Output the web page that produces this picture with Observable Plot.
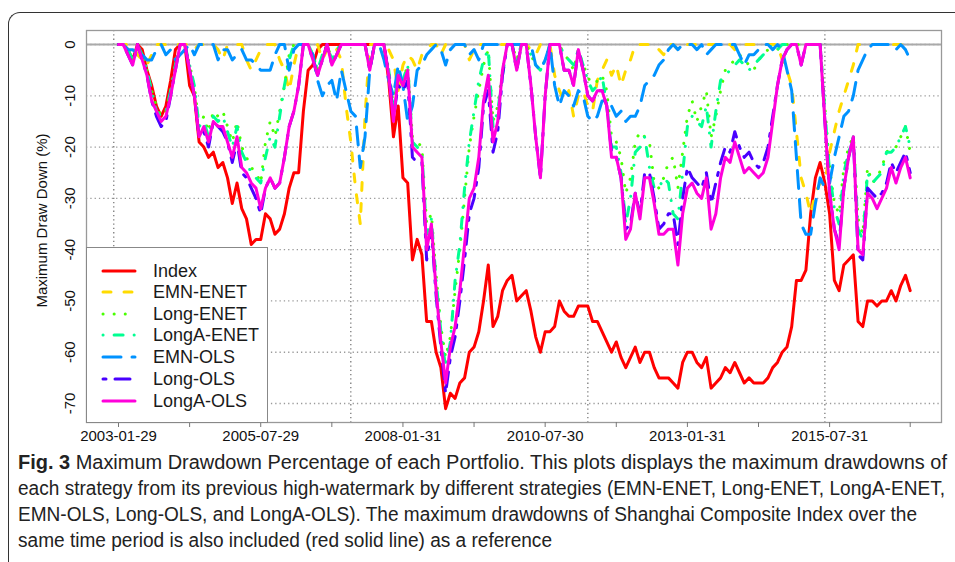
<!DOCTYPE html>
<html><head><meta charset="utf-8">
<script src="https://cdn.jsdelivr.net/npm/d3@7"></script>
<script src="https://cdn.jsdelivr.net/npm/@observablehq/plot@0.6"></script>
<style>
html,body{margin:0;padding:0;background:#fff;width:955px;height:562px;overflow:hidden;}
body{position:relative;font-family:"Liberation Sans",Arial,sans-serif;}
#box{position:absolute;left:8px;top:12px;width:1200px;height:800px;border-top:1.6px solid #333;border-left:1.6px solid #333;border-top-left-radius:12px;}
#chart{position:absolute;left:0;top:0;}
#legend{position:absolute;left:86px;top:247px;width:180px;height:174px;border:1px solid #888;background:#fff;}
.lrow{position:absolute;left:0;height:22px;width:180px;}
.lrow svg{position:absolute;left:13px;top:5px;}
.lrow span{position:absolute;left:66px;top:0;font-size:18px;line-height:22px;color:#1a1a1a;white-space:nowrap;}
#caption{position:absolute;left:18px;top:449px;font-family:"Liberation Sans Narrow","Liberation Sans",Arial,sans-serif;font-size:20px;color:#222;}
#caption .ln{display:block;height:26px;line-height:26px;}
#caption .ln span.t{display:inline-block;white-space:nowrap;transform-origin:0 50%;}
</style></head>
<body>
<div id="box"></div>
<div id="chart"></div>
<div id="legend"></div>
<div id="caption"></div>
<script>
// ---- data (monthly observations, index 1..168) ----
const seriesNames = ["Index","EMN-ENET","Long-ENET","LongA-ENET","EMN-OLS","Long-OLS","LongA-OLS"];
const tickIndex = [1,16,31,46,61,76,91,106,121,136,151,168];
const tickLabels = ["2003-01-29","","2005-07-29","","2008-01-31","","2010-07-30","","2013-01-31","","2015-07-31",""];
const yTicks = [0,-10,-20,-30,-40,-50,-60,-70];
const xGrid = [0,50,100,150];

const indexDD = [0,0,-1,-3,0,-1,-5,-8,-12,-14,
-12,-7,-1,0,0,-8,-10,-19,-20,-22,
-21,-24,-23,-26,-31,-27,-32,-34,-39,-38,
-38,-33,-34,-37,-36,-33,-28,-25,-25,-13,
-5,-4,-1,0,0,0,0,0,0,0,
0,0,0,0,0,0,0,-7,-18,-12,
-26,-27,-42,-38,-41,-54,-54,-60,-63,-71,
-68,-69,-66,-65,-60,-59,-56,-50,-43,-55,
-53,-48,-46,-45,-50,-49,-48,-52,-57,-60,
-56,-56,-55,-50,-52,-53,-53,-51,-51,-51,
-54,-54,-56,-58,-60,-58,-61,-63,-61,-59,
-62,-60,-60,-63,-65,-65,-65,-66,-67,-62,
-60,-60,-62,-63,-61,-67,-66,-65,-63,-64,
-62,-64,-66,-65,-66,-66,-66,-65,-63,-62,
-60,-59,-55,-46,-46,-44,-33,-26,-23,-27,
-33,-46,-48,-43,-42,-41,-54,-55,-50,-50,
-51,-50,-50,-48,-50,-47,-45,-48];

const emnEnet = [0,0,0,0,-2,-3,-4,-2,0,0,
0,0,0,0,0,0,-1,0,0,0,
0,-1,-3,0,0,0,0,-3,-5,-3,
-1,0,0,0,-3,-5,-9,-4,0,0,
0,-1,0,-3,-1,0,-1,-3,-12,-19,
-28,-35,-14,0,0,0,0,-1,-3,-9,
-4,-2,-3,-5,-2,-1,0,0,-2,0,
0,0,0,0,-3,-1,0,0,0,0,
0,0,0,0,0,0,0,-1,-2,0,
0,0,-6,-9,-11,-9,-14,-10,-9,-12,
-13,-7,-5,-3,-6,-4,-8,-5,-3,0,
0,0,0,0,-1,-2,0,0,-1,0,
0,0,0,0,0,0,0,0,0,0,
-1,0,0,0,0,0,0,0,0,0,
-3,-5,-8,-17,-26,-29,-33,-29,-27,-27,
-21,-17,-13,-10,-7,-4,0,0,0,0,
0,0,0,0,0,0,0,-1];

const longEnet = [0,0,-1,-3,0,-2,-5,-9,-12,-14,
-13,-9,-4,0,0,-4,-8,-16,-14,-17,
-13,-14,-13,-16,-19,-15,-20,-22,-24,-25,
-27,-19,-15,-18,-13,-8,-2,0,0,0,
0,-2,-5,-2,0,-3,-1,0,0,0,
0,0,0,-4,0,0,0,-5,-12,-5,
-7,-4,-18,-19,-20,-35,-33,-45,-55,-61,
-57,-48,-40,-30,-20,-14,-9,-4,-1,-15,
-12,-5,0,0,-3,0,0,-2,-4,-5,
-3,0,0,0,-2,-3,-5,-1,-4,-6,
-9,-7,-6,-9,-18,-19,-22,-29,-26,-19,
-17,-18,-19,-27,-28,-26,-23,-22,-28,-21,
-14,-11,-15,-12,-9,-18,-14,-9,-5,-4,
-3,-2,-3,-4,-5,-3,-2,-1,-1,-1,
0,0,0,0,0,0,0,0,0,-12,
-24,-31,-33,-24,-20,-18,-34,-37,-24,-27,
-26,-24,-21,-20,-20,-18,-16,-21];

const longaEnet = [0,0,-1,-3,0,-2,-5,-9,-13,-14,
-13,-9,-4,0,0,-4,-8,-16,-15,-18,
-14,-15,-14,-17,-20,-16,-21,-23,-25,-26,
-27,-22,-18,-20,-14,-8,-3,0,0,0,
0,-2,-5,-2,0,-3,-1,0,0,0,
0,0,0,-4,0,0,0,-5,-13,-5,
-7,-4,-19,-20,-21,-37,-34,-46,-56,-63,
-58,-46,-39,-28,-19,-13,-7,-3,-1,-16,
-13,-6,0,0,-3,0,0,-2,-4,-5,
-3,0,0,0,-2,-3,-4,-1,-4,-7,
-9,-8,-6,-12,-20,-20,-25,-35,-30,-21,
-20,-18,-24,-28,-28,-26,-27,-33,-34,-25,
-16,-14,-15,-16,-12,-20,-13,-7,-6,-5,
-4,-3,-4,-5,-4,-3,-2,-1,0,-1,
0,0,0,0,0,0,0,0,0,-13,
-25,-32,-35,-25,-21,-18,-36,-38,-25,-27,
-26,-25,-21,-21,-20,-18,-16,-20];

const emnOls = [0,0,-1,-1,-2,-2,-3,-3,-1,0,
-2,-1,-3,-2,-1,0,-2,0,0,0,
0,-3,-1,-1,-3,-2,-1,-3,-3,-4,
-5,-5,-5,-2,0,0,-5,-1,0,0,
0,-2,-7,-10,-8,-7,-11,-5,-9,-13,
-14,-24,-18,-5,0,0,-3,-7,-10,-4,
-8,-15,-12,-5,-4,-2,-1,0,-1,-4,
-1,0,0,0,-2,-1,-3,0,0,0,
0,0,0,0,0,0,0,0,-4,-5,
-3,0,-8,-12,-9,-10,-12,-9,-10,-14,
-15,-14,-11,-11,-12,-14,-13,-15,-14,-14,
-12,-8,-7,-6,-4,-3,-1,0,-1,0,
0,0,-1,0,-2,-1,0,0,0,0,
0,-2,-4,-2,-2,-1,0,0,-1,0,
-1,-5,-9,-22,-35,-37,-37,-31,-26,-28,
-27,-22,-18,-14,-13,-10,-5,-3,-1,0,
0,0,0,0,-1,0,-1,-3];

const longOls = [0,0,-2,-4,0,-3,-6,-11,-14,-16,
-15,-10,-5,0,0,-5,-10,-18,-17,-20,
-15,-16,-17,-19,-23,-19,-25,-26,-28,-30,
-33,-28,-26,-28,-27,-22,-16,-13,-8,0,
0,-3,-6,-3,0,-4,-2,0,0,0,
0,0,0,-5,0,0,0,-6,-14,-8,
-9,-7,-22,-23,-23,-42,-36,-49,-59,-68,
-61,-57,-50,-42,-33,-30,-24,-12,-9,-21,
-17,-6,0,0,-5,0,0,-8,-18,-26,
-10,0,0,0,-5,-5,-8,-1,-5,-10,
-11,-9,-9,-12,-21,-22,-26,-36,-35,-29,
-33,-25,-25,-30,-36,-35,-33,-33,-39,-30,
-24,-26,-27,-28,-25,-31,-27,-23,-20,-21,
-17,-20,-22,-21,-23,-24,-23,-20,-14,-8,
-3,-1,0,0,-4,0,0,0,0,-15,
-29,-36,-39,-28,-22,-18,-41,-42,-28,-29,
-30,-29,-27,-23,-25,-23,-21,-25];

const longaOls = [0,0,-2,-4,0,-3,-6,-11,-13,-15,
-14,-10,-5,0,0,-5,-10,-18,-16,-19,
-15,-16,-16,-19,-22,-18,-24,-25,-27,-28,
-32,-28,-26,-28,-27,-22,-16,-13,-8,0,
0,-3,-6,-3,0,-4,-2,0,0,0,
0,0,0,-5,0,0,0,-6,-15,-6,
-8,-5,-20,-21,-22,-40,-35,-48,-58,-66,
-59,-55,-48,-39,-30,-28,-22,-11,-6,-19,
-15,-5,0,0,-5,0,0,-8,-18,-26,
-10,0,0,0,-5,-5,-8,-1,-5,-10,
-11,-9,-9,-12,-22,-22,-26,-38,-36,-29,
-34,-26,-26,-31,-37,-37,-36,-36,-43,-33,
-28,-27,-29,-30,-26,-36,-33,-26,-22,-23,
-19,-22,-25,-24,-25,-26,-25,-22,-15,-8,
-3,-1,0,0,-4,0,0,0,0,-15,
-29,-36,-40,-28,-22,-18,-40,-41,-29,-30,
-32,-30,-28,-24,-27,-24,-22,-26];

const seriesValues = [indexDD, emnEnet, longEnet, longaEnet, emnOls, longOls, longaOls];

// ---- styles ----
const colors = ["#FF0000","#FFDB00","#49FF00","#00FF92","#0092FF","#4900FF","#FF00DB"];
const dashes = [null,"8,13","0.1,11","0.1,11,9,11","18,11","3,9,15,9",null];

const series = seriesNames.map((name, k) => ({
  name, color: colors[k], dash: dashes[k],
  data: seriesValues[k].map((v, j) => ({i: j + 1, v}))
}));

const labelOf = new Map(tickIndex.map((t, k) => [t, tickLabels[k]]));

const chart = Plot.plot({
  width: 955, height: 450,
  marginLeft: 86, marginRight: 14, marginTop: 30, marginBottom: 28,
  style: {fontFamily: '"Liberation Sans", Arial, sans-serif', background: "transparent"},
  x: {domain: [-5.75, 174.6], axis: null},
  y: {domain: [-73.7, 2.73], axis: null},
  marks: [
    Plot.gridY(yTicks, {stroke: "#9a9a9a", strokeOpacity: 1, strokeWidth: 1.3, strokeDasharray: "1.3,3"}),
    Plot.gridX(xGrid, {stroke: "#7a7a7a", strokeOpacity: 1, strokeWidth: 1.3, strokeDasharray: "1.3,3"}),
    Plot.ruleY([0], {stroke: "#aaaaaa", strokeWidth: 2}),
    ...series.map(s => Plot.line(s.data, {
      x: "i", y: "v", stroke: s.color, strokeWidth: 3,
      strokeDasharray: s.dash, strokeLinecap: "round", strokeLinejoin: "round"
    })),
    Plot.frame({stroke: "#999", strokeWidth: 1.3}),
    Plot.axisX(tickIndex, {
      anchor: "bottom", tickSize: 5, tickPadding: 3, stroke: "#777",
      fill: "#111", fontSize: 15, label: null,
      tickFormat: d => labelOf.get(d) ?? ""
    }),
    Plot.text(yTicks, {
      y: d => d, text: d => String(d), frameAnchor: "left", dx: -16,
      rotate: -90, textAnchor: "middle", lineAnchor: "middle", fontSize: 15, fill: "#111"
    }),
    Plot.text(["Maximum Draw Down (%)"], {
      text: d => d, frameAnchor: "left", dx: -44, dy: -6,
      rotate: -90, textAnchor: "middle", lineAnchor: "middle", fontSize: 15, fill: "#111"
    })
  ]
});
document.getElementById("chart").appendChild(chart);

// ---- legend ----
const legendRowsY = [270, 291, 313, 334, 356, 378, 400];
const legend = document.getElementById("legend");
series.forEach((s, k) => {
  const row = document.createElement("div");
  row.className = "lrow";
  row.style.top = (legendRowsY[k] - 248 - 10) + "px";
  row.innerHTML = `<svg width="40" height="12"><line x1="3" x2="35" y1="6" y2="6" stroke="${s.color}" stroke-width="3" stroke-linecap="round" ${s.dash ? `stroke-dasharray="${s.dash}"` : ""}/></svg><span>${s.name}</span>`;
  legend.appendChild(row);
});

// ---- caption ----
const captionLines = [
  ["Fig. 3", " Maximum Drawdown Percentage of each Portfolio. This plots displays the maximum drawdowns of"],
  ["", "each strategy from its previous high-watermark by different strategies (EMN-ENET, Long-ENET, LongA-ENET,"],
  ["", "EMN-OLS, Long-OLS, and LongA-OLS). The maximum drawdowns of Shanghai Composite Index over the"],
  ["", "same time period is also included (red solid line) as a reference"]
];
const captionWidths = [929, 927, 899, 534];
const cap = document.getElementById("caption");
captionLines.forEach(([b, t]) => {
  const d = document.createElement("div");
  d.className = "ln";
  const sp = document.createElement("span");
  sp.className = "t";
  if (b) { const bb = document.createElement("b"); bb.textContent = b; sp.appendChild(bb); }
  sp.appendChild(document.createTextNode(t));
  d.appendChild(sp);
  cap.appendChild(d);
});
function fit() {
  cap.querySelectorAll("span.t").forEach((sp, k) => {
    sp.style.transform = "none";
    const w = sp.getBoundingClientRect().width;
    sp.style.transform = `scaleX(${captionWidths[k] / w})`;
  });
}
fit();
if (document.fonts && document.fonts.ready) document.fonts.ready.then(fit);
</script>
</body></html>
